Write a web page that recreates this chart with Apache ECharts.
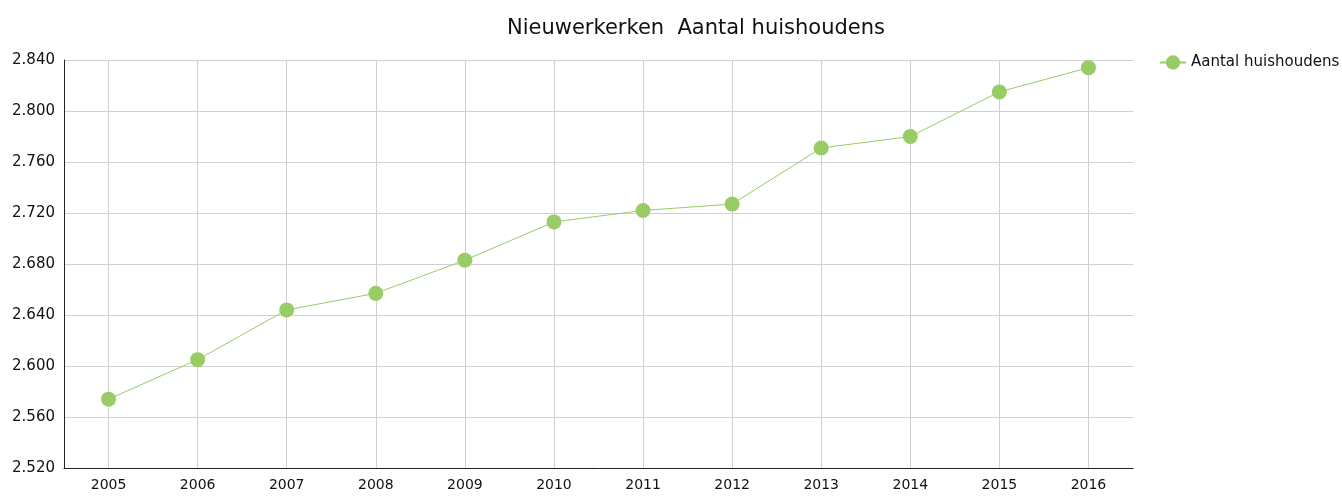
<!DOCTYPE html>
<html>
<head>
<meta charset="utf-8">
<script src="https://cdn.jsdelivr.net/npm/echarts@6/dist/echarts.min.js"></script>
<style>
  html, body { margin: 0; padding: 0; background: #fff; }
  #chart { width: 1342px; height: 498px; }
</style>
</head>
<body>
<div id="chart"></div>
<script>
var years = ['2005', '2006', '2007', '2008', '2009', '2010', '2011', '2012', '2013', '2014', '2015', '2016'];
var huishoudens = [2574, 2605, 2644, 2657, 2683, 2713, 2722, 2727, 2771, 2780, 2815, 2834];
var seriesName = 'Aantal huishoudens';
var titleText = 'Nieuwerkerken  Aantal huishoudens';

var fontFam = '"DejaVu Sans", Verdana, sans-serif';

function fmt(v) {
    var s = String(v);
    return s.length > 3 ? s.slice(0, s.length - 3) + '.' + s.slice(s.length - 3) : s;
}

var myChart = echarts.init(document.getElementById('chart'));
var option = {
    animation: false,
    backgroundColor: '#fff',
    title: {
        text: titleText,
        left: 502,
        top: 13,
        textStyle: { fontFamily: fontFam, fontSize: 21, fontWeight: 'normal', color: '#111' }
    },
    legend: {
        data: [seriesName],
        left: 1154,
        top: 50,
        itemWidth: 26,
        itemHeight: 18,
        itemGap: 6,
        textStyle: { fontFamily: fontFam, fontSize: 15, color: '#111' }
    },
    grid: { left: 64, right: 209, top: 60, bottom: 30, containLabel: false },
    xAxis: {
        type: 'category',
        data: years,
        boundaryGap: true,
        axisLine: { lineStyle: { color: '#222', width: 1 } },
        axisTick: { show: false },
        axisLabel: { fontFamily: fontFam, fontSize: 14, color: '#111', margin: 10 },
        splitLine: { show: true, alignWithLabel: true, lineStyle: { color: '#d0d0d0', width: 1 } }
    },
    yAxis: {
        type: 'value',
        min: 2520,
        max: 2840,
        interval: 40,
        axisLine: { show: true, lineStyle: { color: '#222', width: 1 } },
        axisTick: { show: false },
        axisLabel: { fontFamily: fontFam, fontSize: 15, color: '#111', margin: 9, formatter: fmt },
        splitLine: { show: true, lineStyle: { color: '#d0d0d0', width: 1 } }
    },
    series: [{
        name: seriesName,
        type: 'line',
        data: huishoudens,
        symbol: 'circle',
        symbolSize: 15,
        itemStyle: { color: '#99cc66' },
        lineStyle: { color: '#99cc66', width: 1 }
    }]
};
myChart.setOption(option);
</script>
</body>
</html>
